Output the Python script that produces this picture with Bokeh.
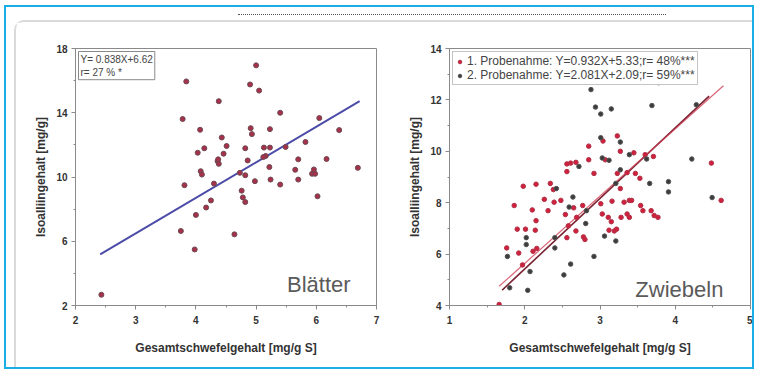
from bokeh.plotting import figure
from bokeh.layouts import row, column
from bokeh.models import (Label, Legend, LegendItem, FixedTicker, Range1d, Div)
from bokeh.embed import file_html
from bokeh.resources import INLINE

# ---------------- data: Blätter ----------------
leaf_x = [2.43, 3.84, 3.78, 3.75, 3.81, 3.98, 4.00, 4.07, 4.03, 4.14, 4.08, 4.10, 4.17, 4.25,
          4.30, 4.38, 4.36, 4.38, 4.43, 4.46, 4.51, 4.64, 4.73, 4.76, 4.78, 4.82, 4.82, 4.86,
          4.90, 4.91, 4.93, 5.00, 5.05, 4.98, 4.82, 5.13, 5.16, 5.23, 5.23, 5.22, 5.24, 5.40,
          5.40, 5.49, 5.65, 5.70, 5.70, 5.82, 5.93, 5.98, 5.96, 6.02, 6.05, 6.17, 6.38, 6.69,
          5.12, 4.37]
leaf_y = [2.67, 15.95, 13.61, 6.64, 9.49, 5.49, 7.64, 12.94, 11.51, 11.79, 10.36, 10.15, 8.10, 8.54,
          9.59, 14.72, 10.99, 10.82, 12.46, 11.45, 11.93, 6.43, 10.26, 9.15, 8.73, 8.44, 11.79, 11.03,
          15.76, 13.04, 12.67, 16.95, 15.38, 9.74, 10.11, 11.83, 11.31, 12.98, 11.83, 10.62, 9.84, 14.00,
          9.53, 11.87, 10.45, 11.10, 9.84, 12.18, 10.20, 10.20, 10.47, 8.80, 13.67, 11.12, 12.92, 10.57,
          11.24, 11.10]
leaf_fit_x = [2.41, 6.72]
leaf_fit_y = [5.18, 14.72]
leaf_eq = "Y= 0.838X+6.62\nr= 27 % *"
leaf_xticks = [2, 3, 4, 5, 6, 7]
leaf_yticks = [2, 6, 10, 14, 18]

# ---------------- data: Zwiebeln ----------------
on1_x = [1.66, 1.76, 1.92, 1.86, 1.90, 1.98, 2.01, 1.97, 2.10, 2.15, 2.11, 2.16, 2.15, 2.14,
         2.26, 2.31, 2.34, 2.38, 2.39, 2.48, 2.54, 2.56, 2.56, 2.56, 2.58, 2.65, 2.61, 2.68,
         2.68, 2.69, 2.78, 2.80, 2.77, 2.85, 2.85, 2.92, 3.04, 3.07, 3.01, 3.03, 3.11, 3.12,
         3.15, 3.16, 3.19, 3.22, 3.23, 3.23, 3.27, 3.27, 3.32, 3.28, 3.39, 3.42, 3.36, 3.39,
         3.45, 3.36, 3.47, 3.53, 3.54, 3.57, 3.60, 3.68, 3.71, 3.72, 3.77, 4.48, 4.61]
on1_y = [4.04, 6.24, 6.04, 7.89, 6.97, 8.64, 6.97, 5.58, 7.72, 8.72, 6.11, 6.22, 7.30, 6.93,
         8.13, 7.69, 8.75, 8.51, 8.02, 8.09, 7.54, 9.21, 9.51, 6.64, 7.10, 7.80, 9.54, 9.57,
         6.90, 7.43, 6.67, 6.57, 7.89, 9.67, 10.20, 9.14, 10.40, 9.67, 7.96, 7.56, 7.43, 6.93,
         7.26, 8.06, 6.90, 6.97, 9.14, 10.60, 10.00, 8.55, 8.02, 7.43, 8.09, 8.09, 7.56, 7.43,
         9.94, 9.17, 9.14, 8.95, 7.89, 7.69, 9.87, 7.69, 9.80, 7.50, 7.43, 9.54, 8.09]
on2_x = [1.80, 2.04, 1.77, 2.02, 2.02, 2.07, 2.42, 2.40, 2.40, 2.52, 2.61, 2.59, 2.64, 2.72,
         2.82, 2.81, 2.88, 2.92, 2.94, 3.01, 3.01, 3.03, 3.12, 3.15, 3.10, 3.06, 3.21, 3.27,
         3.27, 3.21, 3.39, 3.62, 3.66, 3.69, 3.78, 3.91, 3.91, 4.22, 4.49, 4.28]
on2_y = [4.69, 4.59, 5.91, 6.64, 6.37, 5.32, 8.55, 6.64, 6.24, 5.19, 5.61, 7.83, 8.22, 9.41,
         7.69, 7.19, 12.40, 5.91, 11.72, 11.45, 10.53, 9.74, 9.65, 11.65, 12.87, 6.70, 6.51, 10.36,
         9.28, 8.75, 9.87, 9.70, 8.75, 11.78, 12.67, 8.82, 8.42, 9.70, 8.20, 11.81]
on1_fit_x = [1.66, 4.64]
on1_fit_y = [4.75, 12.55]
on2_fit_x = [1.70, 4.45]
on2_fit_y = [4.60, 12.15]
on1_label = "1. Probenahme: Y=0.932X+5.33;r= 48%***"
on2_label = "2. Probenahme: Y=2.081X+2.09;r= 59%***"
on_xticks = [1, 2, 3, 4, 5]
on_yticks = [4, 6, 8, 10, 12, 14]

FONT = "Liberation Sans"
GREY = "#8a8a8a"


def minors(ticks):
    return [(a + b) / 2 for a, b in zip(ticks[:-1], ticks[1:])]


def style(p, xticks, yticks):
    p.outline_line_color = GREY
    p.outline_line_width = 1
    p.xgrid.visible = False
    p.ygrid.visible = False
    p.background_fill_color = "white"
    p.border_fill_color = "white"
    p.xaxis.ticker = FixedTicker(ticks=xticks, minor_ticks=minors(xticks))
    p.yaxis.ticker = FixedTicker(ticks=yticks, minor_ticks=minors(yticks))
    for ax in (p.xaxis[0], p.yaxis[0]):
        ax.axis_line_color = GREY
        ax.major_tick_line_color = GREY
        ax.minor_tick_line_color = GREY
        ax.major_tick_in = 0
        ax.major_tick_out = 4
        ax.minor_tick_in = 0
        ax.minor_tick_out = 2
        ax.major_label_text_font = FONT
        ax.major_label_text_font_style = "bold"
        ax.major_label_text_font_size = "10px"
        ax.major_label_text_color = "#333333"
        ax.axis_label_text_font = FONT
        ax.axis_label_text_font_style = "bold"
        ax.axis_label_text_font_size = "12px"
        ax.axis_label_text_color = "#333333"
    p.xaxis.axis_label = "Gesamtschwefelgehalt [mg/g S]"
    p.yaxis.axis_label = "Isoalliingehalt [mg/g]"
    p.xaxis.major_label_standoff = 6
    p.xaxis.axis_label_standoff = 14
    p.yaxis.major_label_standoff = 4
    p.yaxis.axis_label_standoff = 5


# ---------------- left figure ----------------
p1 = figure(width=386, height=345, output_backend="svg", toolbar_location=None,
            x_range=Range1d(2, 7), y_range=Range1d(2, 18),
            min_border_left=59, min_border_right=26, min_border_top=26, min_border_bottom=62)
style(p1, leaf_xticks, leaf_yticks)
p1.line(leaf_fit_x, leaf_fit_y, line_color="#4b4ba8", line_width=2)
p1.scatter(leaf_x, leaf_y, size=5, fill_color="#a8304a", line_color="#6a4a52", line_width=1)
p1.add_layout(Label(x=3, y=254, x_units="screen", y_units="screen", text=leaf_eq,
                    text_font=FONT, text_font_size="10px", text_color="#444444",
                    text_baseline="top", background_fill_color="white",
                    border_line_color=GREY, border_line_width=1, padding=2))
p1.add_layout(Label(x=6.57, y=2.55, text="Blätter", text_align="right", text_font=FONT,
                    text_font_size="22px", text_color="#5a5a5a"))

# ---------------- right figure ----------------
p2 = figure(width=350, height=345, output_backend="svg", toolbar_location=None,
            x_range=Range1d(1, 5), y_range=Range1d(4, 14),
            min_border_left=47, min_border_right=2, min_border_top=26, min_border_bottom=62)
style(p2, on_xticks, on_yticks)
p2.line(on2_fit_x, on2_fit_y, line_color="#7a2232", line_width=1.6)
p2.line(on1_fit_x, on1_fit_y, line_color="#d04055", line_width=1.2, line_alpha=0.8)
r1 = p2.scatter(on1_x, on1_y, size=4.5, fill_color="#d0203c", line_color="#b03048", line_width=1)
r2 = p2.scatter(on2_x, on2_y, size=4.5, fill_color="#3c3c3c", line_color="#555555", line_width=1)
leg = Legend(items=[LegendItem(label=on1_label, renderers=[r1]),
                    LegendItem(label=on2_label, renderers=[r2])],
             location="top_left", label_text_font=FONT, label_text_font_size="12px",
             label_text_color="#444444", label_height=9, glyph_height=9, glyph_width=9,
             label_standoff=3, spacing=-3, padding=2, margin=3,
             border_line_color=GREY, border_line_width=1, background_fill_alpha=1)
p2.add_layout(leg)
p2.add_layout(Label(x=4.64, y=4.12, text="Zwiebeln", text_align="right", text_font=FONT,
                    text_font_size="22px", text_color="#5a5a5a"))

dots = Div(text="", width=428, height=1, margin=(7, 0, 0, 232),
           styles={"border-top": "1px dotted #555555"})
panel = row(p1, p2, margin=(5, 0, 0, 8),
            styles={"border-left": "2px solid #dadada", "border-top": "2px solid #dadada",
                    "border-top-left-radius": "10px"})
outer = column(dots, panel, width=750, height=364, margin=(5, 0, 0, 4), spacing=0,
               styles={"border": "2px solid #1aaee6", "box-sizing": "border-box",
                       "overflow": "hidden"})

open("out.html", "w").write(file_html(outer, INLINE))
